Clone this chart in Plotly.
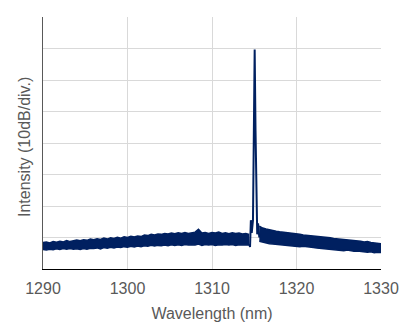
import plotly.graph_objects as go

# Noise-floor envelope sampled every 0.4 nm (intensity in 10 dB divisions)
left_start, right_start, step = 1290.0, 1315.6, 0.4

# 1290.0 .. 1314.4 nm
left_top = [
    0.84, 0.86, 0.83, 0.87, 0.85, 0.88, 0.86, 0.90, 0.87, 0.89,
    0.92, 0.90, 0.93, 0.91, 0.95, 0.93, 0.96, 0.94, 0.98, 0.95,
    0.99, 0.97, 1.01, 0.98, 1.02, 1.00, 1.04, 1.02, 1.05, 1.03,
    1.08, 1.06, 1.10, 1.08, 1.11, 1.10, 1.13, 1.11, 1.14, 1.12,
    1.15, 1.13, 1.16, 1.13, 1.15, 1.17, 1.26, 1.14, 1.16, 1.13,
    1.16, 1.14, 1.17, 1.13, 1.15, 1.12, 1.15, 1.13, 1.14, 1.11,
    1.13, 1.10,
]
left_bottom = [
    0.62, 0.60, 0.63, 0.61, 0.64, 0.62, 0.65, 0.63, 0.65, 0.63,
    0.64, 0.62, 0.65, 0.63, 0.66, 0.65, 0.67, 0.64, 0.68, 0.66,
    0.69, 0.67, 0.70, 0.68, 0.71, 0.69, 0.72, 0.70, 0.73, 0.71,
    0.74, 0.72, 0.75, 0.73, 0.75, 0.74, 0.76, 0.74, 0.77, 0.75,
    0.77, 0.75, 0.78, 0.76, 0.77, 0.76, 0.79, 0.75, 0.78, 0.76,
    0.78, 0.75, 0.77, 0.76, 0.78, 0.76, 0.78, 0.75, 0.77, 0.76,
    0.77, 0.76,
]

# Lasing peak region (nm, divisions)
peak_wl = [1314.4, 1314.5, 1314.6, 1314.7, 1314.85, 1314.95, 1315.05, 1315.15, 1315.25, 1315.35, 1315.45, 1315.6]
peak_int = [0.80, 0.70, 1.55, 1.15, 1.55, 4.4, 6.97, 4.4, 1.55, 1.10, 1.45, 1.00]

# 1315.6 .. 1330.0 nm
right_top = [
    1.36, 1.30, 1.27, 1.24, 1.22, 1.20, 1.18, 1.17, 1.15, 1.14,
    1.12, 1.11, 1.10, 1.08, 1.07, 1.06, 1.05, 1.03, 1.04, 1.01,
    1.00, 0.99, 0.97, 0.96, 0.95, 0.94, 0.93, 0.91, 0.92, 0.89,
    0.88, 0.86, 0.87, 0.84, 0.83, 0.82, 0.80,
]
right_bottom = [
    0.88, 0.85, 0.83, 0.80, 0.79, 0.78, 0.76, 0.77, 0.74, 0.73,
    0.74, 0.72, 0.71, 0.72, 0.70, 0.69, 0.68, 0.67, 0.66, 0.65,
    0.64, 0.62, 0.63, 0.60, 0.61, 0.58, 0.60, 0.57, 0.56, 0.57,
    0.55, 0.54, 0.53, 0.55, 0.52, 0.53, 0.52,
]

x_ticks = [1290, 1300, 1310, 1320, 1330]

left_wl = [round(left_start + step * i, 2) for i in range(len(left_top))]
right_wl = [round(right_start + step * i, 2) for i in range(len(right_top))]

GREY = "#595959"
NAVY = "#002060"
FONT = "Liberation Sans, Arial, sans-serif"

fig = go.Figure()
for wl, top, bot in ((left_wl, left_top, left_bottom), (right_wl, right_top, right_bottom)):
    fig.add_trace(go.Scatter(x=wl, y=top, mode="lines", line=dict(color=NAVY, width=1.5),
                             hoverinfo="skip", showlegend=False))
    fig.add_trace(go.Scatter(x=wl, y=bot, mode="lines", line=dict(color=NAVY, width=1.5),
                             fill="tonexty", fillcolor=NAVY,
                             hoverinfo="skip", showlegend=False))
fig.add_trace(go.Scatter(x=peak_wl, y=peak_int, mode="lines", line=dict(color=NAVY, width=2),
                         hoverinfo="skip", showlegend=False))

fig.update_layout(
    width=416, height=335,
    margin=dict(l=43, r=35, t=17, b=66),
    paper_bgcolor="white", plot_bgcolor="white",
    font=dict(family=FONT, size=16, color=GREY),
    xaxis=dict(
        range=[1290, 1330], tickvals=x_ticks,
        ticktext=[str(t) for t in x_ticks],
        showgrid=True, gridcolor="#d9d9d9", gridwidth=1,
        showline=True, linecolor="#000000", linewidth=1,
        zeroline=False, ticks="outside", ticklen=5, tickcolor="rgba(0,0,0,0)",
        tickfont=dict(family=FONT, size=16, color=GREY),
        title=dict(text="Wavelength (nm)", font=dict(family=FONT, size=16, color=GREY), standoff=11),
    ),
    yaxis=dict(
        range=[0, 8], dtick=1, tick0=0,
        showgrid=True, gridcolor="#d9d9d9", gridwidth=1,
        showline=True, linecolor=GREY, linewidth=1,
        zeroline=False, ticks="", showticklabels=False,
    ),
    annotations=[dict(
        text="Intensity (10dB/div.)", textangle=-90,
        xref="paper", yref="paper", x=(24 - 43) / 338, y=(269 - 147) / 252,
        xanchor="center", yanchor="middle", showarrow=False,
        font=dict(family=FONT, size=16, color=GREY),
    )],
)

fig.write_html("out.html")
